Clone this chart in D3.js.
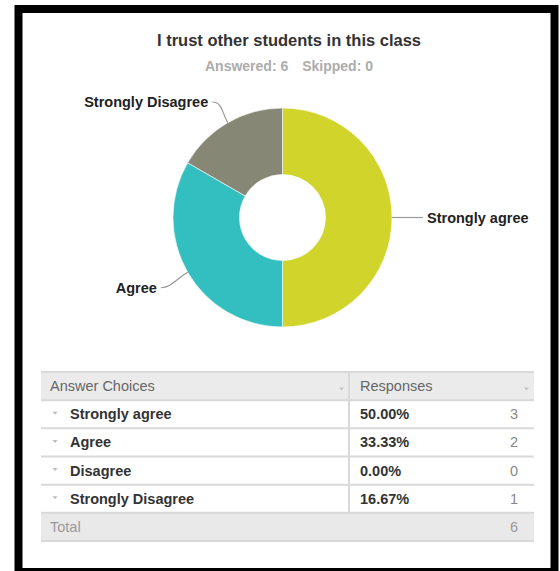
<!DOCTYPE html>
<html>
<head>
<meta charset="utf-8">
<script src="https://cdn.jsdelivr.net/npm/d3@7"></script>
<style>
  html, body { margin: 0; padding: 0; background: #fff; }
  svg { display: block; font-family: "Liberation Sans", Arial, Helvetica, sans-serif; }
</style>
</head>
<body>
<svg id="chart" width="560" height="571"></svg>
<script>
// Survey question and response data
const questionTitle = "I trust other students in this class";
const answeredCount = 6;
const skippedCount = 0;
const categories = ["Strongly agree", "Agree", "Disagree", "Strongly Disagree"];
const responseCounts = [3, 2, 0, 1];
const sliceColors = ["#d1d52b", "#33bec0", "#9a9a8a", "#878776"];
const tableHeaders = ["Answer Choices", "Responses"];
const totalLabel = "Total";

const total = d3.sum(responseCounts);
const rows = categories.map((c, i) => ({ name: c, count: responseCounts[i], color: sliceColors[i] }));

const svg = d3.select("#chart");

// Outer frame
svg.append("rect")
  .attr("x", 18.5).attr("y", 9).attr("width", 536).attr("height", 563)
  .attr("fill", "none").attr("stroke", "#000").attr("stroke-width", 8);

// Title and response summary
svg.append("text")
  .attr("x", 289).attr("y", 46)
  .attr("text-anchor", "middle")
  .attr("font-size", 16.5).attr("font-weight", "bold").attr("fill", "#333")
  .text(questionTitle);

const sub = svg.append("text")
  .attr("x", 289).attr("y", 71)
  .attr("text-anchor", "middle")
  .attr("font-size", 14).attr("font-weight", "bold").attr("fill", "#acacac");
sub.append("tspan").text(`Answered: ${answeredCount}`);
sub.append("tspan").attr("dx", 14).text(`Skipped: ${skippedCount}`);

// Donut
const cx = 282.5, cy = 217.5, R = 109.5, r0 = 43;
const pie = d3.pie().sort(null).value(d => d.count);
const arcs = pie(rows);
const arc = d3.arc().innerRadius(r0).outerRadius(R);
const g = svg.append("g").attr("transform", `translate(${cx},${cy})`);

g.selectAll("path.slice")
  .data(arcs.filter(a => a.data.count > 0))
  .join("path")
  .attr("class", "slice")
  .attr("d", arc)
  .attr("fill", d => d.data.color)
  .attr("stroke", "#ffffff")
  .attr("stroke-width", 0.6);

// Data labels with soft connectors; labels are kept below the plot's top edge
const polar = (ang, rad) => [Math.sin(ang) * rad, -Math.cos(ang) * rad];
const labelDist = 31;
const minLabelY = 102 - cy;
arcs.filter(a => a.data.count > 0).forEach(a => {
  const mid = (a.startAngle + a.endAngle) / 2;
  const base = polar(mid, R);
  const c2 = polar(mid, R + 12);
  const lab = polar(mid, R + labelDist);
  lab[1] = Math.max(lab[1], minLabelY);
  const side = lab[0] >= 0 ? 1 : -1;
  const c1 = [lab[0] - side * 10, lab[1]];
  g.append("path")
    .attr("d", `M${lab[0]},${lab[1]}C${c1[0]},${c1[1]} ${c2[0]},${c2[1]} ${base[0]},${base[1]}`)
    .attr("fill", "none").attr("stroke", "#999").attr("stroke-width", 1.2);
  g.append("text")
    .attr("x", lab[0] + side * 4).attr("y", lab[1])
    .attr("dy", "0.35em")
    .attr("text-anchor", side > 0 ? "start" : "end")
    .attr("font-size", 14.5).attr("font-weight", "bold").attr("fill", "#222")
    .text(a.data.name);
});

// Response table
const tLeft = 41, tRight = 534, colX = 349;
const yBands = d3.scaleBand()
  .domain(["header", ...categories, "total"])
  .range([372, 541])
  .paddingInner(0).paddingOuter(0);
const rowH = yBands.bandwidth();
const lineColor = "#d9d9d9";
const pct = d3.format(".2%");

// header and total backgrounds
svg.append("rect").attr("x", tLeft).attr("y", yBands("header"))
  .attr("width", tRight - tLeft).attr("height", rowH).attr("fill", "#ebebeb");
svg.append("rect").attr("x", tLeft).attr("y", yBands("total"))
  .attr("width", tRight - tLeft).attr("height", rowH).attr("fill", "#e9e9e9");

// horizontal rules
yBands.domain().concat(["end"]).forEach(k => {
  const y = k === "end" ? yBands("total") + rowH : yBands(k);
  svg.append("line")
    .attr("x1", tLeft).attr("x2", tRight).attr("y1", y).attr("y2", y)
    .attr("stroke", lineColor).attr("stroke-width", 2);
});
// column divider (header through last answer row)
svg.append("line")
  .attr("x1", colX).attr("x2", colX)
  .attr("y1", yBands("header")).attr("y2", yBands("total"))
  .attr("stroke", lineColor).attr("stroke-width", 2);

const tri = (x, y, w, h, fill) => svg.append("path")
  .attr("d", `M${x - w / 2},${y - h / 2}L${x + w / 2},${y - h / 2}L${x},${y + h / 2}Z`)
  .attr("fill", fill);

// header text
const hy = yBands("header") + rowH / 2;
svg.append("text").attr("x", 50).attr("y", hy).attr("dy", "0.35em")
  .attr("font-size", 14.5).attr("fill", "#666").text(tableHeaders[0]);
svg.append("text").attr("x", 360).attr("y", hy).attr("dy", "0.35em")
  .attr("font-size", 14.5).attr("fill", "#666").text(tableHeaders[1]);
tri(341.5, hy + 3, 5, 3, "#c4c4c4");
tri(526.5, hy + 3, 5, 3, "#c4c4c4");

// answer rows
rows.forEach(d => {
  const y = yBands(d.name) + rowH / 2;
  tri(55, y - 1, 5, 3, "#bdbdbd");
  svg.append("text").attr("x", 70).attr("y", y).attr("dy", "0.35em")
    .attr("font-size", 14.5).attr("font-weight", "bold").attr("fill", "#333").text(d.name);
  svg.append("text").attr("x", 360).attr("y", y).attr("dy", "0.35em")
    .attr("font-size", 14.5).attr("font-weight", "bold").attr("fill", "#333").text(pct(d.count / total));
  svg.append("text").attr("x", 518).attr("y", y).attr("dy", "0.35em")
    .attr("text-anchor", "end")
    .attr("font-size", 14.5).attr("fill", "#888").text(d.count);
});

// total row
const ty = yBands("total") + rowH / 2;
svg.append("text").attr("x", 50).attr("y", ty).attr("dy", "0.35em")
  .attr("font-size", 14.5).attr("fill", "#999").text(totalLabel);
svg.append("text").attr("x", 518).attr("y", ty).attr("dy", "0.35em")
  .attr("text-anchor", "end")
  .attr("font-size", 14.5).attr("fill", "#999").text(total);
</script>
</body>
</html>
